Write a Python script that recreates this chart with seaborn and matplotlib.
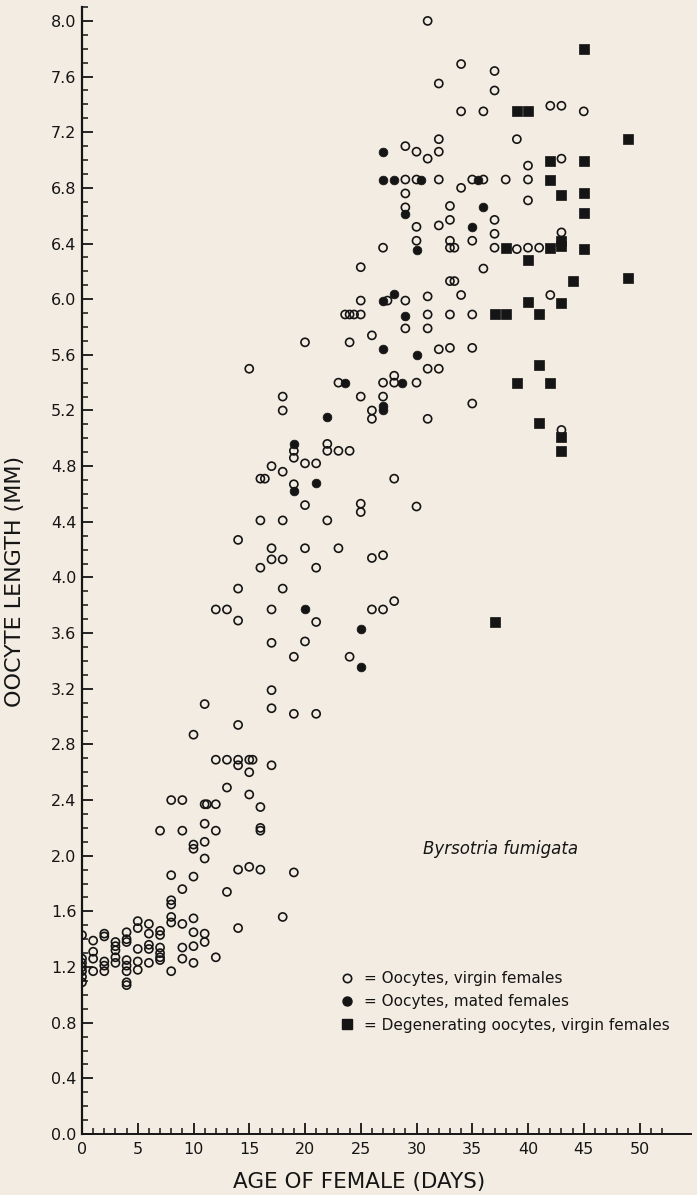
import matplotlib
matplotlib.use("Agg")
import matplotlib.pyplot as plt
import seaborn as sns
from matplotlib.ticker import MultipleLocator, FormatStrFormatter, FixedLocator
from matplotlib.lines import Line2D

# oocytes, virgin females (open circles)
virgin_day = [31, 34, 37, 32, 37, 42, 43, 34, 36, 45, 32, 39, 29, 30, 31, 32, 40, 43,
              29, 30, 32, 35, 36, 38, 40, 34, 29, 40, 29, 33, 30, 32, 33, 37, 37, 43,
              30, 33, 35, 27, 33, 33.4, 37, 39, 40, 41,
              25, 36, 33, 33.4, 25, 27.4, 29, 31, 34, 42, 23.6, 24, 24.4, 25, 31, 33, 35,
              29, 31, 26, 20, 24, 32, 33, 35, 15, 31, 32, 23, 27, 28, 28, 30, 18, 25, 27,
              18, 26, 26, 31, 35, 43, 19, 19, 22, 22, 23, 24, 17, 18, 20, 21, 16, 16.4,
              19, 28, 20, 25, 25, 30,
              16, 18, 22, 14, 17, 20, 23, 26, 27, 17, 18, 16, 21, 14, 18, 12, 13, 17, 26,
              27, 28, 14, 21, 17, 20, 19, 24, 17, 11, 17, 19, 21,
              14, 10, 12, 13, 14, 14, 15, 15.3, 15, 17, 13, 15, 8, 9, 11, 11.2, 12, 16, 11,
              7, 9, 12, 16, 16, 11, 10, 10, 11, 14, 15, 16, 19, 8, 10, 9, 13, 8, 18,
              8, 8, 8, 9, 10, 14, 5, 5, 6, 7, 7, 6, 4, 4, 4, 2, 2, 0, 1, 3, 3, 3, 5, 6, 6,
              7, 7, 8, 9, 9, 10, 10, 10, 11, 11, 12, 1, 1, 1, 2, 2, 2, 3, 3, 4, 4, 4, 4, 4,
              5, 5, 6, 7, 7, 0, 0, 0, 0, 0, 0]
virgin_len = [8.00, 7.69, 7.64, 7.55, 7.50, 7.39, 7.39, 7.35, 7.35, 7.35, 7.15, 7.15, 7.10,
              7.06, 7.01, 7.06, 6.96, 7.01, 6.86, 6.86, 6.86, 6.86, 6.86, 6.86, 6.86, 6.80,
              6.76, 6.71, 6.66, 6.67, 6.52, 6.53, 6.57, 6.57, 6.47, 6.48, 6.42, 6.42, 6.42,
              6.37, 6.37, 6.37, 6.37, 6.36, 6.37, 6.37,
              6.23, 6.22, 6.13, 6.13, 5.99, 5.99, 5.99, 6.02, 6.03, 6.03, 5.89, 5.89, 5.89,
              5.89, 5.89, 5.89, 5.89, 5.79, 5.79, 5.74, 5.69, 5.69, 5.64, 5.65, 5.65, 5.50,
              5.50, 5.50, 5.40, 5.40, 5.45, 5.40, 5.40, 5.30, 5.30, 5.30, 5.20, 5.20, 5.14,
              5.14, 5.25, 5.06, 4.91, 4.86, 4.96, 4.91, 4.91, 4.91, 4.80, 4.76, 4.82, 4.82,
              4.71, 4.71, 4.67, 4.71, 4.52, 4.53, 4.47, 4.51,
              4.41, 4.41, 4.41, 4.27, 4.21, 4.21, 4.21, 4.14, 4.16, 4.13, 4.13, 4.07, 4.07,
              3.92, 3.92, 3.77, 3.77, 3.77, 3.77, 3.77, 3.83, 3.69, 3.68, 3.53, 3.54, 3.43,
              3.43, 3.19, 3.09, 3.06, 3.02, 3.02,
              2.94, 2.87, 2.69, 2.69, 2.69, 2.65, 2.69, 2.69, 2.60, 2.65, 2.49, 2.44, 2.40,
              2.40, 2.37, 2.37, 2.37, 2.35, 2.23, 2.18, 2.18, 2.18, 2.20, 2.18, 2.10, 2.08,
              2.05, 1.98, 1.90, 1.92, 1.90, 1.88, 1.86, 1.85, 1.76, 1.74, 1.68, 1.56,
              1.65, 1.56, 1.52, 1.51, 1.55, 1.48, 1.53, 1.48, 1.51, 1.46, 1.43, 1.44, 1.45,
              1.40, 1.38, 1.44, 1.42, 1.43, 1.39, 1.38, 1.35, 1.32, 1.33, 1.36, 1.33, 1.34,
              1.30, 1.17, 1.34, 1.26, 1.45, 1.35, 1.23, 1.44, 1.38, 1.27, 1.31, 1.26, 1.17,
              1.24, 1.21, 1.17, 1.27, 1.23, 1.25, 1.21, 1.17, 1.09, 1.07, 1.24, 1.18, 1.23,
              1.27, 1.25, 1.26, 1.23, 1.20, 1.17, 1.13, 1.09]

# oocytes, mated females (filled circles)
mated_day = [27, 27, 28, 30.4, 35.5, 29, 36, 35, 30, 28, 27, 29, 27, 30, 23.6, 28.7,
             27, 27, 22, 19, 19, 21, 20, 25, 25]
mated_len = [7.06, 6.86, 6.86, 6.86, 6.86, 6.61, 6.66, 6.52, 6.35, 6.04, 5.99, 5.88,
             5.64, 5.60, 5.40, 5.40, 5.23, 5.20, 5.15, 4.96, 4.62, 4.68, 3.77, 3.63, 3.36]

# degenerating oocytes, virgin females (filled squares)
degen_day = [45, 39, 40, 49, 42, 45, 42, 43, 45, 45, 43, 38, 42, 43, 45, 40, 44, 49,
             40, 43, 37, 38, 41, 41, 39, 42, 41, 43, 43, 37]
degen_len = [7.80, 7.35, 7.35, 7.15, 6.99, 6.99, 6.86, 6.75, 6.76, 6.62, 6.42, 6.37,
             6.37, 6.38, 6.36, 6.28, 6.13, 6.15, 5.98, 5.97, 5.89, 5.89, 5.89, 5.53,
             5.40, 5.40, 5.11, 5.01, 4.91, 3.68]

legend_labels = ["= Oocytes, virgin females",
                 "= Oocytes, mated females",
                 "= Degenerating oocytes, virgin females"]

sns.set_style("ticks")
plt.rcParams["font.family"] = ["DejaVu Sans"]

bg = "#f3ece2"
ink = "#151515"

# axis runs past the last tick, as on the scanned figure
xmax = 54.6
fig = plt.figure(figsize=(6.97, 11.95), dpi=100, facecolor=bg)
ax = fig.add_axes([82 / 697, 61 / 1195, xmax * 11.15 / 697, 1127 / 1195])
ax.set_facecolor(bg)

sns.scatterplot(x=virgin_day, y=virgin_len, ax=ax, marker="o", s=34,
                facecolor="none", edgecolor=ink, linewidth=1.2, zorder=3)
sns.scatterplot(x=mated_day, y=mated_len, ax=ax, marker="o", s=40,
                color=ink, edgecolor=ink, linewidth=0.5, zorder=4)
sns.scatterplot(x=degen_day, y=degen_len, ax=ax, marker="s", s=48,
                color=ink, edgecolor=ink, linewidth=0.5, zorder=4)

ax.set_xlim(0, xmax)
ax.set_ylim(0, 8.1)
ax.xaxis.set_major_locator(FixedLocator(range(0, 51, 5)))
ax.xaxis.set_minor_locator(FixedLocator(range(0, 53)))
ax.yaxis.set_major_locator(MultipleLocator(0.4))
ax.yaxis.set_minor_locator(MultipleLocator(0.1))
ax.yaxis.set_major_formatter(FormatStrFormatter("%.1f"))

ax.tick_params(which="major", direction="in", length=8, width=1.3, color=ink,
               labelsize=11.5, labelcolor=ink, pad=4)
ax.tick_params(which="minor", direction="in", length=4.5, width=1.1, color=ink)
ax.tick_params(axis="x", which="major", pad=6)

for side in ["top", "right"]:
    ax.spines[side].set_visible(False)
ax.spines["left"].set_linewidth(1.6)
ax.spines["left"].set_color(ink)
ax.spines["bottom"].set_linewidth(1.4)
ax.spines["bottom"].set_color(ink)

ax.set_xlabel("AGE OF FEMALE (DAYS)", fontsize=15.5, color=ink)
ax.xaxis.set_label_coords(277 / (xmax * 11.15), -0.034)
ax.set_ylabel("OOCYTE LENGTH (MM)", fontsize=16, color=ink)
ax.yaxis.set_label_coords(-57 / (xmax * 11.15), 0.49)

ax.text(30.55, 2.05, "Byrsotria fumigata", fontsize=12, style="italic",
        color=ink, ha="left", va="center")

handles = [
    Line2D([], [], marker="o", ls="none", mfc="none", mec=ink, ms=6, mew=1.2),
    Line2D([], [], marker="o", ls="none", mfc=ink, mec=ink, ms=6.5),
    Line2D([], [], marker="s", ls="none", mfc=ink, mec=ink, ms=6.5),
]
ax.legend(handles, legend_labels, loc="upper left", frameon=False,
          bbox_to_anchor=(339 / 697, 1 - 971 / 1195), bbox_transform=fig.transFigure,
          fontsize=11, borderpad=0, borderaxespad=0, handlelength=1.0,
          handletextpad=0.65, labelspacing=0.55, labelcolor=ink)

fig.savefig("out.png", dpi=100, facecolor=bg)
